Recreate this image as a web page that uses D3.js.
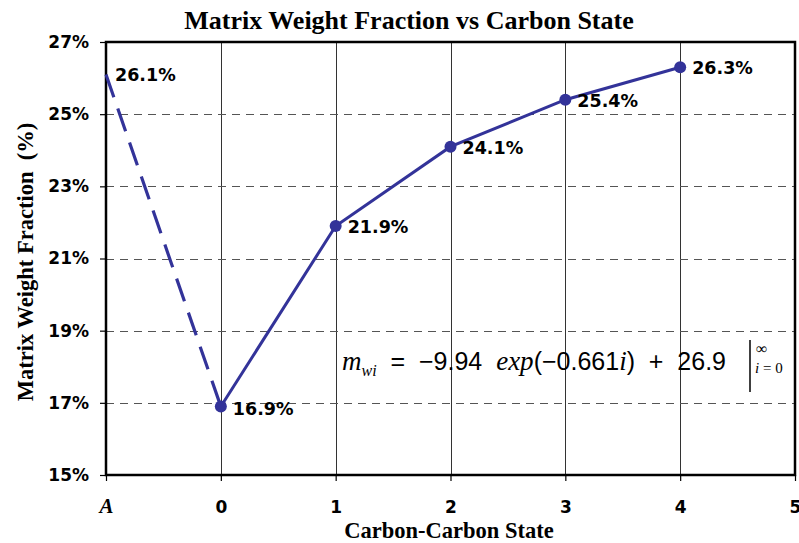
<!DOCTYPE html>
<html>
<head>
<meta charset="utf-8">
<script src="https://cdn.jsdelivr.net/npm/d3@7"></script>
<style>
  body { margin: 0; background: #fff; }
  svg { display: block; }
</style>
</head>
<body>
<div id="chart"></div>
<script>
// data
var categories = ["A", "0", "1", "2", "3", "4", "5"]
var states     = ["A", "0", "1", "2", "3", "4"]
var fractions  = [26.1, 16.9, 21.9, 24.1, 25.4, 26.3]
var yTicks     = [15, 17, 19, 21, 23, 25, 27]

var W = 799, H = 543
var margin = {top: 42, right: 4, bottom: 68, left: 106}
var width  = W - margin.left - margin.right,
    height = H - margin.top - margin.bottom

var sans  = "DejaVu Sans, sans-serif"
var arial = "Liberation Sans, Arial, sans-serif"
var serif = "Liberation Serif, Times New Roman, serif"
var col   = "#333399"

var svg = d3.select("#chart").append("svg")
  .attr("width", W).attr("height", H)

var g = svg.append("g").attr("transform", "translate(" + margin.left + "," + margin.top + ")")

var x = d3.scalePoint().domain(categories).range([0, width])
var y = d3.scaleLinear().domain([15, 27]).range([height, 0])

// grid
g.selectAll(".vgrid").data(categories.slice(1, 6)).enter().append("line")
  .attr("x1", function(d) { return Math.round(x(d)) + 0.5 }).attr("x2", function(d) { return Math.round(x(d)) + 0.5 })
  .attr("y1", 0).attr("y2", height)
  .attr("stroke", "#333").attr("stroke-width", 1)

g.selectAll(".hgrid").data(yTicks.slice(1, 6)).enter().append("line")
  .attr("x1", 0).attr("x2", width)
  .attr("y1", function(d) { return Math.round(y(d)) + 0.5 }).attr("y2", function(d) { return Math.round(y(d)) + 0.5 })
  .attr("stroke", "#555").attr("stroke-width", 1).attr("stroke-dasharray", "8,6")

// frame
g.append("rect").attr("width", width).attr("height", height)
  .attr("fill", "none").attr("stroke", "#000").attr("stroke-width", 2.5)

// axes
var yAxis = g.append("g").call(d3.axisLeft(y).tickValues(yTicks).tickSize(6)
  .tickFormat(function(d) { return d + "%" }))
yAxis.select(".domain").remove()
yAxis.selectAll("line").attr("stroke", "#000").attr("stroke-width", 1.2)
yAxis.selectAll("text").attr("font-family", sans)
  .attr("font-weight", "bold").attr("font-size", 17).attr("fill", "#000").attr("dx", -8)

var xAxis = g.append("g").attr("transform", "translate(0," + height + ")")
  .call(d3.axisBottom(x).tickSize(6))
xAxis.select(".domain").remove()
xAxis.selectAll("line").attr("stroke", "#000").attr("stroke-width", 1.2)
xAxis.selectAll("text").attr("font-family", sans)
  .attr("font-weight", "bold").attr("font-size", 17).attr("fill", "#000")
  .attr("y", 38).attr("dy", 0)
xAxis.selectAll("text").filter(function(d) { return d == "A" })
  .attr("font-family", serif).attr("font-style", "italic").attr("font-size", 21)

// series
var pts = states.map(function(s, i) { return {s: s, v: fractions[i]} })
var line = d3.line().x(function(d) { return x(d.s) }).y(function(d) { return y(d.v) })

g.append("path").datum(pts.slice(0, 2)).attr("d", line)
  .attr("fill", "none").attr("stroke", col).attr("stroke-width", 3.2).attr("stroke-dasharray", "24,12")
g.append("path").datum(pts.slice(1)).attr("d", line)
  .attr("fill", "none").attr("stroke", col).attr("stroke-width", 3)

g.selectAll(".dot").data(pts.slice(1)).enter().append("circle")
  .attr("cx", function(d) { return x(d.s) }).attr("cy", function(d) { return y(d.v) })
  .attr("r", 6).attr("fill", col)

g.selectAll(".lbl").data(pts).enter().append("text")
  .attr("x", function(d) { return x(d.s) + (d.s == "A" ? 9 : 12) })
  .attr("y", function(d) { return y(d.v) + (d.s == "0" ? 9 : 7) })
  .attr("font-family", sans).attr("font-weight", "bold")
  .attr("font-size", 17.5).attr("fill", "#000")
  .text(function(d) { return d.v.toFixed(1) + "%" })

// titles
svg.append("text").attr("x", 409).attr("y", 29).attr("text-anchor", "middle")
  .attr("font-family", serif).attr("font-weight", "bold")
  .attr("font-size", 26).text("Matrix Weight Fraction vs Carbon State")

svg.append("text").attr("x", 449).attr("y", 538).attr("text-anchor", "middle")
  .attr("font-family", serif).attr("font-weight", "bold")
  .attr("font-size", 22.5).text("Carbon-Carbon State")

svg.append("text").attr("transform", "translate(33,262) rotate(-90)").attr("text-anchor", "middle")
  .attr("font-family", serif).attr("font-weight", "bold")
  .attr("font-size", 22.5).attr("xml:space", "preserve").text("Matrix Weight Fraction  (%)")

// equation
var eq = svg.append("text").attr("x", 342).attr("y", 370)
  .attr("font-family", arial).attr("font-size", 25).attr("xml:space", "preserve")
eq.append("tspan").attr("font-family", serif).attr("font-style", "italic").attr("font-size", 27).text("m")
eq.append("tspan").attr("font-family", serif).attr("font-style", "italic").attr("font-size", 16)
  .attr("dy", 6).text("wi")
eq.append("tspan").attr("dy", -6).text("  =  \u22129.94  ")
eq.append("tspan").attr("font-family", serif).attr("font-style", "italic").attr("font-size", 27).text("exp")
eq.append("tspan").text("(\u22120.661")
eq.append("tspan").attr("font-family", serif).attr("font-style", "italic").attr("font-size", 27).text("i")
eq.append("tspan").text(")  +  26.9")

svg.append("line").attr("x1", 750).attr("x2", 750).attr("y1", 340).attr("y2", 392)
  .attr("stroke", "#000").attr("stroke-width", 1.5)
svg.append("text").attr("x", 756).attr("y", 354).attr("font-family", serif)
  .attr("font-size", 16).text("\u221e")
svg.append("text").attr("x", 755).attr("y", 373).attr("font-family", serif)
  .attr("font-size", 15).attr("xml:space", "preserve")
  .html("<tspan font-style='italic'>i</tspan> = 0")
</script>
</body>
</html>
